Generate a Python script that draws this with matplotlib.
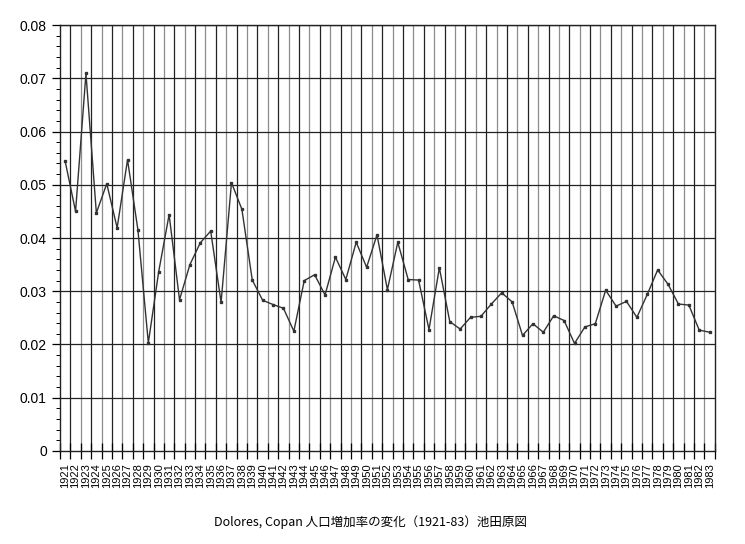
import numpy as np
import matplotlib
matplotlib.use("Agg")
import matplotlib.pyplot as plt
from matplotlib.ticker import MultipleLocator, FixedLocator, FuncFormatter

plt.rcParams['font.family'] = ['Liberation Sans', 'DejaVu Sans']

# population growth rate, Dolores, Copan (1921-83)
years = list(range(1921, 1984))
rates = [0.0544, 0.0450, 0.0709, 0.0447, 0.0502, 0.0419, 0.0547, 0.0415, 0.0203, 0.0337,
         0.0444, 0.0284, 0.0350, 0.0391, 0.0413, 0.0279, 0.0504, 0.0454, 0.0321, 0.0283,
         0.0275, 0.0268, 0.0225, 0.0320, 0.0331, 0.0293, 0.0364, 0.0322, 0.0392, 0.0345,
         0.0406, 0.0303, 0.0392, 0.0322, 0.0321, 0.0228, 0.0344, 0.0243, 0.0229, 0.0251,
         0.0253, 0.0276, 0.0297, 0.0280, 0.0217, 0.0239, 0.0223, 0.0254, 0.0245, 0.0202,
         0.0233, 0.0239, 0.0302, 0.0272, 0.0281, 0.0251, 0.0294, 0.0340, 0.0313, 0.0276,
         0.0274, 0.0227, 0.0223]
caption = "Dolores, Copan 人口増加率の変化（1921-83）池田原図"

fig = plt.figure(figsize=(7.45, 5.44), dpi=100)
ax = fig.add_axes([0.0805, 0.171, 0.879, 0.783])

n = len(years)
x = np.arange(n)

# vertical grid between categories, alternating dark / grey like the scan
for i in range(1, n):
    col = '#222222' if i % 2 == 1 else '#8c8c8c'
    ax.axvline(i - 0.5, color=col, lw=0.9, zorder=1)
for v in np.arange(0.01, 0.08, 0.01):
    ax.axhline(v, color='#222222', lw=0.9, zorder=1)

ax.plot(x, rates, color='#333333', lw=1.0, marker='s', ms=1.5, zorder=3)

ax.set_xlim(-0.5, n - 0.5)
ax.set_ylim(0, 0.08)
ax.yaxis.set_major_locator(MultipleLocator(0.01))
ax.yaxis.set_minor_locator(MultipleLocator(0.002))
ax.yaxis.set_major_formatter(FuncFormatter(lambda v, p: '0' if abs(v) < 1e-9 else '%.2f' % v))
ax.tick_params(axis='y', which='major', direction='out', length=6, width=0.9, labelsize=10)
ax.tick_params(axis='y', which='minor', direction='out', length=3, width=0.7)

ax.set_xticks(x)
ax.set_xticklabels([str(y) for y in years], rotation=90, fontsize=8)
ax.xaxis.set_minor_locator(FixedLocator(np.arange(-0.5, n, 1.0)))
ax.tick_params(axis='x', which='major', length=0, pad=9)
ax.tick_params(axis='x', which='minor', direction='inout', length=12, width=0.9)

for s in ax.spines.values():
    s.set_linewidth(1.0)
    s.set_color('#222222')

fig.text(0.497, 0.04, caption, ha='center', va='center', fontsize=9,
         family=['Noto Sans CJK JP', 'DejaVu Sans'])

fig.savefig("out.png", dpi=100)
